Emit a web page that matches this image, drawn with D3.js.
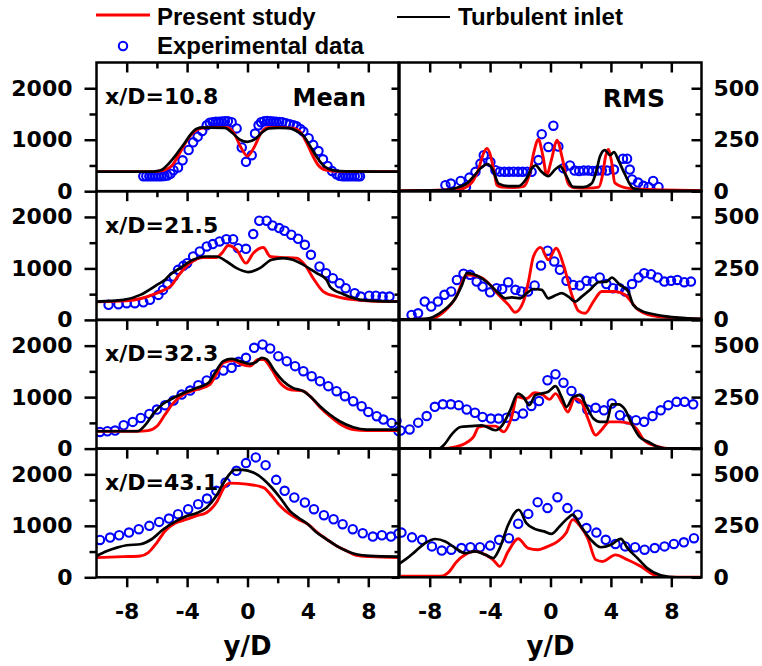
<!DOCTYPE html>
<html>
<head>
<meta charset="utf-8">
<script src="https://cdnjs.cloudflare.com/ajax/libs/d3/7.8.5/d3.min.js"></script>
<style>
body { margin: 0; background: #fff; }
svg { display: block; }
.tick text { font-family: "DejaVu Sans", sans-serif; font-weight: bold; font-size: 22px; fill: #000; }
.tick line { stroke: #000; stroke-width: 2.5; }
.lg { font-family: "Liberation Sans", Arial, sans-serif; font-weight: bold; font-size: 24px; }
.lab { font-family: "DejaVu Sans", sans-serif; font-weight: bold; }
</style>
</head>
<body>
<script>
// ---- data (y/D, value) ----
var stations = ["x/D=10.8", "x/D=21.5", "x/D=32.3", "x/D=43.1"];
var xTicks = [-8, -4, 0, 4, 8];
var xMinor = [-6, -2, 2, 6];
var meanTicks = [0, 1000, 2000];
var meanMinor = [500, 1500];
var rmsTicks = [0, 250, 500];
var rmsMinor = [125, 375];

// x/D = 10.8
var meanRed108 = [[-10,380],[-6.5,380],[-6,385],[-5.5,410],[-5,500],[-4.5,730],[-4,990],[-3.5,1160],[-3,1225],[-2,1240],[-1.3,1235],[-0.9,1130],[-0.45,860],[0,680],[0.45,860],[0.9,1130],[1.3,1235],[2,1240],[3,1225],[3.5,1150],[3.9,950],[4.3,700],[4.7,500],[5.2,410],[6,385],[10,380]];
var meanBlack108 = [[-10,380],[-6.5,380],[-6,390],[-5.6,430],[-5.2,540],[-4.8,680],[-4.5,800],[-4.1,960],[-3.8,1090],[-3.4,1210],[-3,1235],[-2.5,1235],[-1.5,1230],[-1,1130],[-0.5,1000],[0,960],[0.5,1010],[1,1150],[1.4,1220],[2,1230],[2.8,1225],[3.3,1160],[3.7,1080],[4.1,900],[4.6,660],[5.1,480],[5.7,405],[6.5,385],[10,380]];
var meanExp108 = [[-6.9,290],[-6.7,290],[-6.5,290],[-6.3,290],[-6.1,290],[-5.9,290],[-5.7,292],[-5.5,295],[-5.3,305],[-5.1,340],[-4.9,408],[-4.6,460],[-4.3,600],[-3.9,800],[-3.6,950],[-3.3,1060],[-3,1170],[-2.7,1280],[-2.5,1330],[-2.3,1340],[-2.1,1350],[-1.9,1350],[-1.7,1355],[-1.5,1360],[-1.3,1360],[-1.05,1340],[-0.72,1220],[-0.38,850],[-0.1,570],[0.28,700],[0.5,1120],[0.73,1280],[0.9,1340],[1.1,1360],[1.3,1365],[1.5,1360],[1.7,1355],[1.9,1350],[2.1,1345],[2.3,1340],[2.55,1320],[2.8,1300],[3.05,1280],[3.25,1260],[3.5,1210],[3.7,1160],[4.05,1030],[4.35,900],[4.7,780],[5,620],[5.3,490],[5.6,390],[5.9,330],[6.1,300],[6.3,290],[6.5,290],[6.7,290],[6.9,290],[7.1,290],[7.3,290],[7.45,290]];
var rmsRed108 = [[-10,3],[-7.5,5],[-6.5,8],[-6,10],[-5.3,35],[-4.8,100],[-4.4,190],[-4.2,208],[-4,180],[-3.7,80],[-3.55,30],[-3.2,20],[-2.5,18],[-1.8,22],[-1.4,80],[-1.1,190],[-0.8,251],[-0.5,170],[-0.25,78],[0.05,150],[0.45,248],[0.75,170],[1.17,37],[1.5,18],[2.5,15],[3.2,20],[3.45,80],[3.65,170],[3.82,203],[4.05,140],[4.26,40],[5.1,15],[6.5,8],[10,3]];
var rmsBlack108 = [[-10,2],[-7,5],[-6.3,15],[-5.5,40],[-5,80],[-4.5,120],[-4.15,131],[-3.8,100],[-3.44,37],[-2.8,25],[-2.1,25],[-1.6,60],[-1.2,115],[-1,126],[-0.6,95],[-0.15,73],[0.3,105],[0.63,122],[1,80],[1.5,21],[2.2,20],[2.72,37],[3.05,102],[3.27,167],[3.6,199],[3.95,175],[4.2,190],[4.5,150],[4.9,86],[5.5,13],[6.5,3],[10,2]];
var rmsExp108 = [[-6.96,29],[-6.6,37],[-5.95,50],[-5.6,21],[-5.37,66],[-4.97,94],[-4.64,134],[-4.42,175],[-3.98,142],[-3.65,102],[-3.35,95],[-3.05,94],[-2.75,94],[-2.45,95],[-2.15,94],[-1.85,94],[-1.55,95],[-1.25,94],[-0.8,151],[-0.58,277],[-0.14,215],[0.19,318],[0.52,217],[0.85,112],[1.29,125],[1.6,100],[1.9,98],[2.2,100],[2.5,100],[2.8,98],[3.1,100],[3.4,100],[3.75,100],[4.2,105],[4.8,158],[5.07,158],[5.25,105],[5.4,57],[5.8,42],[6.15,26],[6.5,21],[6.8,50],[7.15,21]];

// x/D = 21.5
var meanRed215 = [[-10,350],[-8,370],[-7,420],[-6,520],[-5.4,600],[-5,680],[-4.7,810],[-4.3,960],[-3.8,1102],[-2.9,1213],[-2.06,1213],[-1.7,1297],[-1.27,1446],[-0.72,1362],[-0.1,1102],[0.38,1297],[1.05,1407],[1.5,1232],[2.15,1213],[3.25,1200],[3.8,1070],[4.35,810],[5.02,551],[5.9,454],[7.2,389],[8.5,360],[10,356]];
var meanBlack215 = [[-10,356],[-8.2,389],[-7.1,486],[-6,681],[-5.46,778],[-5.2,860],[-4.47,1005],[-3.6,1167],[-2.8,1232],[-2.06,1232],[-1.38,1135],[-0.72,1005],[0.05,928],[0.82,1005],[1.6,1167],[2.37,1200],[3,1167],[3.7,1070],[4.58,908],[5.24,778],[5.46,648],[6.35,499],[7.2,408],[8.3,369],[10,356]];
var meanExp215 = [[-9.2,292],[-8.55,305],[-8,324],[-7.46,324],[-6.9,343],[-6.46,389],[-5.9,486],[-5.6,583],[-5.3,694],[-4.9,843],[-4.6,972],[-4.25,1050],[-4,1102],[-3.6,1232],[-3.16,1329],[-2.7,1427],[-2.3,1472],[-1.85,1524],[-1.4,1569],[-0.95,1569],[-0.63,1394],[-0.1,1381],[0.38,1667],[0.78,1926],[1.27,1926],[1.65,1835],[2.1,1783],[2.45,1732],[2.9,1654],[3.35,1576],[3.8,1459],[4.2,1264],[4.77,1037],[5.2,908],[5.65,810],[6.1,713],[6.5,616],[7.1,518],[7.5,454],[8.06,470],[8.5,470],[8.95,454],[9.4,454]];
var rmsRed215 = [[-10,2],[-8.07,3],[-7.18,32],[-6.3,105],[-5.53,219],[-4.76,211],[-4.1,178],[-3.44,122],[-2.78,73],[-2.34,37],[-1.79,89],[-1.46,186],[-1.13,308],[-0.65,352],[-0.14,292],[0.37,348],[0.86,267],[1.41,122],[1.85,44],[2.29,32],[2.84,89],[3.39,138],[4.27,138],[4.93,122],[5.81,49],[7.1,16],[9.5,5],[10,4]];
var rmsBlack215 = [[-10,2],[-8.3,5],[-7.18,41],[-6.3,105],[-5.86,170],[-5.53,227],[-5.09,222],[-4.32,190],[-3.44,130],[-3,105],[-2.56,109],[-2,105],[-1.57,130],[-1.13,150],[-0.58,146],[-0.14,105],[0.3,118],[0.74,130],[1.19,113],[1.63,89],[2.07,113],[2.62,146],[3.17,183],[3.72,186],[4.05,206],[4.6,170],[5.15,138],[5.48,73],[6.03,44],[7.1,24],[8.45,11],[10,5]];
var rmsExp215 = [[-9.2,24],[-8.77,32],[-8.33,89],[-7.9,65],[-7.46,89],[-7.02,122],[-6.58,138],[-6.2,194],[-5.76,224],[-5.33,219],[-4.89,186],[-4.5,162],[-4,134],[-3.57,154],[-3.2,150],[-2.8,183],[-2.32,146],[-1.93,138],[-1.49,138],[-1.05,167],[-0.63,264],[-0.19,336],[0.25,284],[0.62,243],[1.06,190],[1.5,170],[1.94,167],[2.38,190],[2.8,186],[3.26,206],[3.7,174],[4.14,154],[4.58,154],[4.95,138],[5.4,174],[5.83,206],[6.2,227],[6.66,222],[7.1,206],[7.54,186],[7.98,190],[8.4,194],[8.86,183],[9.3,186]];

// x/D = 32.3
var meanRed323 = [[-10,337],[-7.3,337],[-6.6,350],[-6,434],[-5.46,662],[-4.9,888],[-4.25,1050],[-3.35,1148],[-2.5,1245],[-2.06,1440],[-1.6,1667],[-0.95,1712],[-0.4,1634],[0.16,1602],[0.7,1731],[1.05,1731],[1.6,1537],[2.15,1278],[2.8,1148],[3.7,1115],[4.14,1018],[4.8,804],[5.45,629],[6.1,480],[7,370],[7.9,350],[10,350]];
var meanBlack323 = [[-10,337],[-7.3,337],[-6.75,467],[-6.2,694],[-5.65,856],[-5.1,953],[-4.2,1083],[-3.35,1180],[-2.58,1278],[-2.15,1472],[-1.6,1699],[-1.05,1744],[-0.5,1699],[0.16,1647],[0.6,1686],[0.93,1764],[1.27,1731],[1.8,1504],[2.37,1310],[3,1180],[3.7,1115],[4.14,1018],[4.8,824],[5.45,662],[6.1,532],[7,415],[7.9,370],[10,370]];
var meanExp323 = [[-9.77,324],[-9.28,337],[-8.77,350],[-8.2,454],[-7.6,519],[-7.07,596],[-6.5,674],[-6,759],[-5.46,843],[-4.9,934],[-4.36,1050],[-3.8,1128],[-3.26,1232],[-2.7,1323],[-2.15,1440],[-1.6,1517],[-1.05,1569],[-0.6,1686],[-0.1,1764],[0.44,1958],[1,2023],[1.5,1945],[2.04,1796],[2.6,1699],[3.15,1602],[3.7,1504],[4.25,1407],[4.8,1310],[5.35,1213],[5.9,1115],[6.45,1018],[7,921],[7.56,824],[8,713],[8.56,629],[9,564],[9.55,499],[10,340]];
var rmsRed323 = [[-10,0],[-7.2,0],[-6.3,8],[-5.5,32],[-5.1,57],[-4.75,105],[-4.3,109],[-3.65,109],[-3.1,81],[-2.6,146],[-2.2,251],[-1.6,243],[-1.05,271],[-0.5,260],[-0.07,239],[0.33,267],[0.8,219],[1.15,178],[1.6,243],[2.04,227],[2.48,146],[3,65],[3.36,89],[3.9,130],[4.58,130],[5.24,122],[5.68,98],[6.2,41],[7,12],[7.9,0],[10,0]];
var rmsBlack323 = [[-10,0],[-7.4,0],[-7.08,16],[-6.5,73],[-5.96,105],[-5.3,109],[-4.54,113],[-3.65,89],[-3.2,113],[-2.67,186],[-2.16,267],[-1.8,251],[-1.4,211],[-1,260],[-0.6,267],[-0.15,276],[0.33,303],[0.73,251],[1.06,203],[1.5,251],[1.94,260],[2.4,203],[2.84,146],[3.28,130],[3.72,130],[4.06,215],[4.5,215],[4.93,190],[5.37,122],[5.9,57],[6.5,32],[7.13,8],[7.9,0],[10,0]];
var rmsExp323 = [[-10.2,135],[-9.93,88],[-9.33,93],[-8.76,126],[-8.2,158],[-7.66,203],[-7.13,215],[-6.6,215],[-6.08,211],[-5.55,190],[-5,174],[-4.5,154],[-3.95,146],[-3.44,146],[-2.9,150],[-2.37,158],[-1.82,170],[-1.27,207],[-0.76,231],[-0.2,332],[0.33,361],[0.86,320],[1.39,280],[1.94,243],[2.44,190],[2.99,198],[3.54,186],[4.06,219],[4.6,162],[5.1,142],[5.66,138],[6.2,130],[6.76,158],[7.3,186],[7.8,211],[8.35,227],[8.88,227],[9.45,215]];

// x/D = 43.1
var meanRed431 = [[-10,383],[-8.2,402],[-7.1,415],[-6.57,480],[-6,674],[-5.46,901],[-4.8,1050],[-4,1128],[-3.4,1193],[-2.7,1258],[-2.06,1453],[-1.5,1764],[-1.17,1829],[-0.07,1809],[0.82,1764],[1.16,1725],[1.6,1583],[2.15,1388],[2.8,1226],[3.35,1128],[4,1031],[4.58,882],[5.24,739],[5.9,610],[6.57,512],[7.2,428],[8.1,402],[10,383]];
var meanBlack431 = [[-10,415],[-9.3,512],[-8.65,577],[-8,622],[-7.1,642],[-6.35,739],[-5.57,934],[-4.7,1096],[-4,1193],[-3.4,1245],[-2.7,1356],[-2.06,1583],[-1.5,1874],[-0.84,2088],[-0.3,2088],[0.38,2036],[1.05,1906],[1.6,1744],[2.15,1550],[2.8,1291],[3.35,1161],[4,1031],[4.58,869],[5.24,739],[5.9,610],[6.57,512],[7.2,448],[8.1,415],[10,402]];
var meanExp431 = [[-9.77,726],[-9.1,772],[-8.5,817],[-7.85,869],[-7.2,934],[-6.5,999],[-5.85,1076],[-5.2,1141],[-4.6,1226],[-3.93,1323],[-3.27,1420],[-2.68,1530],[-2.06,1680],[-1.45,1842],[-0.73,2069],[-0.1,2218],[0.55,2329],[1.2,2179],[1.9,1893],[2.46,1680],[3.1,1550],[3.8,1453],[4.4,1323],[5.06,1206],[5.7,1128],[6.3,1031],[6.97,934],[7.63,856],[8.3,791],[8.9,817],[9.5,791],[10,850]];
var rmsRed431 = [[-10,5],[-7.2,6],[-6.76,24],[-6.2,77],[-5.66,109],[-5,126],[-4.3,109],[-3.8,85],[-3.36,53],[-2.8,126],[-2.14,187],[-1.5,142],[-0.84,134],[-0.18,150],[0.48,174],[1.03,215],[1.47,280],[1.9,255],[2.46,190],[3,85],[3.45,77],[4.3,109],[5.1,85],[5.98,53],[6.86,12],[7.74,0],[10,0]];
var rmsBlack431 = [[-10.26,55],[-9.6,87],[-8.95,126],[-8.3,166],[-7.63,186],[-6.97,174],[-6.3,142],[-5.66,117],[-5,126],[-4.3,109],[-3.8,93],[-3.36,142],[-2.8,255],[-2.1,328],[-1.6,263],[-1.05,235],[-0.42,223],[0.06,211],[0.6,247],[1.15,288],[1.47,304],[2.02,247],[2.68,182],[3.34,146],[4,158],[4.66,187],[5.1,142],[5.76,93],[6.4,45],[7.3,10],[8.4,0],[10,0]];
var rmsExp431 = [[-9.87,217],[-9.17,194],[-8.5,182],[-7.85,150],[-7.2,130],[-6.57,134],[-5.9,142],[-5.3,146],[-4.67,146],[-4,154],[-3.4,182],[-2.75,190],[-2.14,260],[-1.47,308],[-0.85,365],[-0.2,336],[0.46,389],[1.12,336],[1.8,304],[2.38,239],[3.04,217],[3.66,182],[4.3,162],[4.95,150],[5.6,146],[6.23,134],[6.9,142],[7.55,150],[8.17,162],[8.83,170],[9.5,190]];

var meanRed = [meanRed108, meanRed215, meanRed323, meanRed431];
var meanBlack = [meanBlack108, meanBlack215, meanBlack323, meanBlack431];
var meanExp = [meanExp108, meanExp215, meanExp323, meanExp431];
var rmsRed = [rmsRed108, rmsRed215, rmsRed323, rmsRed431];
var rmsBlack = [rmsBlack108, rmsBlack215, rmsBlack323, rmsBlack431];
var rmsExp = [rmsExp108, rmsExp215, rmsExp323, rmsExp431];

// ---- layout ----
var width = 762, height = 666;
var colX = [96.5, 399.5];
var panelW = 302, panelH = 128.7, rowY0 = 62.5;

var svg = d3.select("body").append("svg")
	.attr("width", width)
	.attr("height", height);

var x = d3.scaleLinear().domain([-10, 10]).range([0, panelW]);
var yMean = d3.scaleLinear().domain([0, 2500]).range([panelH, 0]);
var yRms = d3.scaleLinear().domain([0, 625]).range([panelH, 0]);

function cleanAxis(sel) {
	sel.select(".domain").remove();
}

function drawPanel(r, c) {
	var y = c == 0 ? yMean : yRms;
	var red = c == 0 ? meanRed[r] : rmsRed[r];
	var black = c == 0 ? meanBlack[r] : rmsBlack[r];
	var exp = c == 0 ? meanExp[r] : rmsExp[r];

	var g = svg.append("g")
		.attr("transform", "translate(" + colX[c] + "," + (rowY0 + r * panelH) + ")");

	var clipId = "clip" + r + c;
	g.append("clipPath").attr("id", clipId)
		.append("rect").attr("x", 0).attr("y", 0)
		.attr("width", panelW).attr("height", panelH);

	var plot = g.append("g").attr("clip-path", "url(#" + clipId + ")");

	var line = d3.line()
		.x(function(d) { return x(d[0]); })
		.y(function(d) { return y(d[1]); })
		.curve(d3.curveMonotoneX);

	// experimental circles
	plot.selectAll("circle.exp")
		.data(exp)
		.enter().append("circle")
		.attr("class", "exp")
		.attr("cx", function(d) { return x(d[0]); })
		.attr("cy", function(d) { return y(d[1]); })
		.attr("r", 4.2)
		.attr("fill", "none")
		.attr("stroke", "#0000ff")
		.attr("stroke-width", 2.1);

	plot.append("path").datum(red)
		.attr("d", line)
		.attr("fill", "none")
		.attr("stroke", "#ff0000")
		.attr("stroke-width", 2.9);

	plot.append("path").datum(black)
		.attr("d", line)
		.attr("fill", "none")
		.attr("stroke", "#000")
		.attr("stroke-width", 2.7);

	// x axes (ticks hang downward)
	g.append("g")
		.attr("transform", "translate(0," + panelH + ")")
		.call(d3.axisBottom(x).tickValues(xTicks).tickSize(10).tickPadding(16)
			.tickFormat(function(d) { return r == 3 ? String(d) : ""; }))
		.call(cleanAxis);
	g.append("g")
		.attr("transform", "translate(0," + panelH + ")")
		.call(d3.axisBottom(x).tickValues(xMinor).tickSize(6).tickFormat(""))
		.call(cleanAxis);
	if (r == 0) {
		g.append("g")
			.call(d3.axisTop(x).tickValues(xTicks).tickSize(-10).tickFormat(""))
			.call(cleanAxis);
		g.append("g")
			.call(d3.axisTop(x).tickValues(xMinor).tickSize(-6).tickFormat(""))
			.call(cleanAxis);
	}

	// y axes
	if (c == 0) {
		g.append("g")
			.call(d3.axisLeft(y).tickValues(meanTicks).tickSize(12).tickPadding(12)
				.tickFormat(function(d) { return String(d); }))
			.call(cleanAxis);
		g.append("g")
			.call(d3.axisLeft(y).tickValues(meanMinor).tickSize(7).tickFormat(""))
			.call(cleanAxis);
	} else {
		g.append("g")
			.call(d3.axisLeft(y).tickValues(rmsTicks).tickSize(8).tickFormat(""))
			.call(cleanAxis);
		g.append("g")
			.call(d3.axisLeft(y).tickValues(rmsMinor).tickSize(5).tickFormat(""))
			.call(cleanAxis);
		g.append("g")
			.attr("transform", "translate(" + panelW + ",0)")
			.call(d3.axisRight(y).tickValues(rmsTicks).tickSize(-10).tickPadding(12)
				.tickFormat(function(d) { return String(d); }))
			.call(cleanAxis);
		g.append("g")
			.attr("transform", "translate(" + panelW + ",0)")
			.call(d3.axisRight(y).tickValues(rmsMinor).tickSize(-6).tickFormat(""))
			.call(cleanAxis);
	}

	// frame
	g.append("rect")
		.attr("x", 0).attr("y", 0)
		.attr("width", panelW).attr("height", panelH)
		.attr("fill", "none")
		.attr("stroke", "#000")
		.attr("stroke-width", 2.5);

	if (c == 0) {
		g.append("text").attr("class", "lab")
			.attr("x", 8.5).attr("y", 41.5)
			.style("font-size", "22px")
			.text(stations[r]);
	}
	if (r == 0 && c == 0) {
		g.append("text").attr("class", "lab")
			.attr("x", 269.5).attr("y", 43)
			.attr("text-anchor", "end")
			.style("font-size", "24px")
			.text("Mean");
	}
	if (r == 0 && c == 1) {
		g.append("text").attr("class", "lab")
			.attr("x", 265.5).attr("y", 44.5)
			.attr("text-anchor", "end")
			.style("font-size", "25px")
			.text("RMS");
	}
}

for (var r = 0; r < 4; r++) {
	drawPanel(r, 0);
	drawPanel(r, 1);
}

// x titles
[0, 1].forEach(function(c) {
	svg.append("text").attr("class", "lab")
		.attr("x", colX[c] + panelW / 2)
		.attr("y", 655)
		.attr("text-anchor", "middle")
		.style("font-size", "26px")
		.text("y/D");
});

// legend
var lg = svg.append("g");
lg.append("line")
	.attr("x1", 96).attr("x2", 150).attr("y1", 15).attr("y2", 15)
	.attr("stroke", "#ff0000").attr("stroke-width", 3);
lg.append("text").attr("class", "lg").attr("x", 157).attr("y", 25).text("Present study");
lg.append("circle")
	.attr("cx", 123).attr("cy", 46).attr("r", 4.2)
	.attr("fill", "none").attr("stroke", "#0000ff").attr("stroke-width", 2.1);
lg.append("text").attr("class", "lg").attr("x", 157).attr("y", 54).text("Experimental data");
lg.append("line")
	.attr("x1", 397).attr("x2", 450).attr("y1", 17).attr("y2", 17)
	.attr("stroke", "#000").attr("stroke-width", 2);
lg.append("text").attr("class", "lg").attr("x", 458).attr("y", 25).text("Turbulent inlet");
</script>
</body>
</html>
